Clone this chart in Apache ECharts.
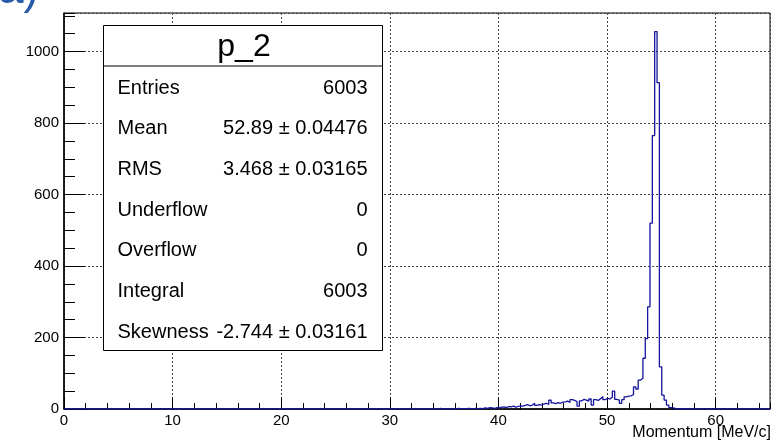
<!DOCTYPE html>
<html>
<head>
<meta charset="utf-8">
<script src="https://cdn.jsdelivr.net/npm/echarts@6/dist/echarts.min.js"></script>
<style>
  html, body { margin: 0; padding: 0; background: #fff; }
  #chart { width: 781px; height: 443px; }
</style>
</head>
<body>
<div id="chart"></div>
<script>
// Histogram p_2: 300 bins over 0-65 MeV/c
const histMin = 0;
const histMax = 65;
const nBins = 300;
const firstBin = 128; // index of the first bin listed in binCounts
const binCounts = [
  0, 0, 0, 1, 0, 0, 1, 0, 0, 1,
  0, 0, 1, 0, 0, 0, 1, 0, 0, 1, 0, 0, 0,
  1, 0, 0, 1, 0, 1, 0, 0, 2, 0, 1, 0, 1, 0, 0,
  1, 2, 0, 1, 1, 2, 1, 0, 2, 1, 2, 1,
  3, 2, 4, 3, 2, 4, 3,
  5, 6, 4, 7, 6, 8, 5, 7, 9,
  8, 10, 12, 9, 11, 16, 10, 12, 11,
  14, 16, 13, 25, 17, 15, 18, 16, 19,
  20, 22, 18, 26, 24, 21, 8, 23, 27,
  25, 22, 28, 11, 26, 24, 29, 34, 26,
  30, 28, 33, 50, 27, 25, 16, 26, 34, 36, 37, 40,
  62, 56, 81, 86, 142, 197, 286, 520, 765, 1056, 913, 118, 39, 25, 11, 4, 3,
  1, 0, 1, 0, 0, 1, 0, 0, 0, 0, 0, 0, 1, 0, 0, 0, 0
];

// Statistics box
const statsTitle = 'p_2';
const statsLabels = ['Entries', 'Mean', 'RMS', 'Underflow', 'Overflow', 'Integral', 'Skewness'];
const statsValues = ['6003', '52.89 \u00b1 0.04476', '3.468 \u00b1 0.03165', '0', '0', '6003', '-2.744 \u00b1 0.03161'];

const xTitle = 'Momentum [MeV/c]';
const panelTag = 'a)';
const yMax = 1108;

const FONT = '"Liberation Sans", Arial, Helvetica, sans-serif';
const LINE_BLUE = '#14149e';

// Step outline: each point is a bin's lower edge and its content
const binWidth = (histMax - histMin) / nBins;
const outline = [[histMin, 0]];
binCounts.forEach((c, i) => {
  outline.push([histMin + (firstBin + i) * binWidth, c]);
});
outline.push([histMin + (firstBin + binCounts.length) * binWidth, 0]);
outline.push([histMax, 0]);

const chart = echarts.init(document.getElementById('chart'), null, { renderer: 'canvas' });

const gridBox = { left: 64, right: 11, top: 13, bottom: 34 };

// Stats box geometry
const box = { x: 103.5, y: 25.5, w: 279, h: 325, titleH: 40.5 };
const rowH = (box.h - box.titleH) / statsLabels.length;

const statsElements = [
  {
    type: 'rect',
    shape: { x: box.x, y: box.y, width: box.w, height: box.h },
    style: { fill: '#fff', stroke: '#000', lineWidth: 1 },
    z: 10
  },
  {
    type: 'line',
    shape: { x1: box.x, y1: box.y + box.titleH, x2: box.x + box.w, y2: box.y + box.titleH },
    style: { stroke: '#000', lineWidth: 1 },
    z: 11
  },
  {
    type: 'text',
    x: box.x + box.w / 2 + 1,
    y: box.y + box.titleH / 2 + 1,
    style: { text: statsTitle, font: '32px ' + FONT, fill: '#000', align: 'center', verticalAlign: 'middle' },
    z: 11
  }
];
statsLabels.forEach((lab, i) => {
  const cy = box.y + box.titleH + rowH * (i + 0.5) + 2;
  statsElements.push({
    type: 'text', x: box.x + 14, y: cy,
    style: { text: lab, font: '20px ' + FONT, fill: '#000', align: 'left', verticalAlign: 'middle' },
    z: 11
  });
  statsElements.push({
    type: 'text', x: box.x + box.w - 15, y: cy,
    style: { text: statsValues[i], font: '20px ' + FONT, fill: '#000', align: 'right', verticalAlign: 'middle' },
    z: 11
  });
});

const plainNumber = (v) => String(v);

const option = {
  animation: false,
  backgroundColor: '#fff',
  grid: {
    left: gridBox.left, right: gridBox.right, top: gridBox.top, bottom: gridBox.bottom,
    containLabel: false, outerBoundsMode: 'none',
    show: true, borderColor: '#000', borderWidth: 1, backgroundColor: 'transparent'
  },
  xAxis: [
    {
      type: 'value', position: 'bottom', min: histMin, max: histMax, interval: 10,
      axisLine: { show: true, onZero: false, lineStyle: { color: '#000', width: 1.5 } },
      axisTick: { show: true, inside: true, length: 12, lineStyle: { color: '#000', width: 1 } },
      axisLabel: { show: true, showMaxLabel: false, margin: 4, color: '#000', fontSize: 15, fontFamily: FONT, formatter: plainNumber },
      splitLine: { show: true, lineStyle: { color: '#444', width: 1, type: [2, 2] } }
    },
    {
      type: 'value', position: 'bottom', min: histMin, max: histMax, interval: 2,
      axisLine: { show: false, onZero: false },
      axisTick: { show: true, inside: true, length: 6, lineStyle: { color: '#000', width: 1 } },
      axisLabel: { show: false },
      splitLine: { show: false }
    }
  ],
  yAxis: [
    {
      type: 'value', position: 'left', min: 0, max: yMax, interval: 200,
      axisLine: { show: true, onZero: false, lineStyle: { color: '#000', width: 1.5 } },
      axisTick: { show: true, inside: true, length: 21, lineStyle: { color: '#000', width: 1 } },
      axisLabel: { show: true, showMaxLabel: false, margin: 5, color: '#000', fontSize: 15, fontFamily: FONT, formatter: plainNumber },
      splitLine: { show: true, lineStyle: { color: '#444', width: 1, type: [2, 2] } }
    },
    {
      type: 'value', position: 'left', min: 0, max: yMax, interval: 50,
      axisLine: { show: false, onZero: false },
      axisTick: { show: true, inside: true, length: 11, lineStyle: { color: '#000', width: 1 } },
      axisLabel: { show: false },
      splitLine: { show: false }
    }
  ],
  series: [
    {
      type: 'line',
      xAxisIndex: 0, yAxisIndex: 0,
      step: 'end',
      data: outline,
      showSymbol: false,
      symbol: 'none',
      clip: true,
      lineStyle: { color: LINE_BLUE, width: 1.3 },
      z: 5
    }
  ],
  graphic: [
    {
      type: 'text', x: 771, y: 433,
      style: { text: xTitle, font: '16px ' + FONT, fill: '#000', align: 'right', verticalAlign: 'middle' },
      z: 20
    },
    {
      type: 'text', x: -2, y: 13,
      style: { text: panelTag, font: '46px ' + FONT, fill: '#2a5ba8', align: 'left', verticalAlign: 'bottom' },
      z: 20
    }
  ].concat(statsElements)
};

chart.setOption(option);
</script>
</body>
</html>
